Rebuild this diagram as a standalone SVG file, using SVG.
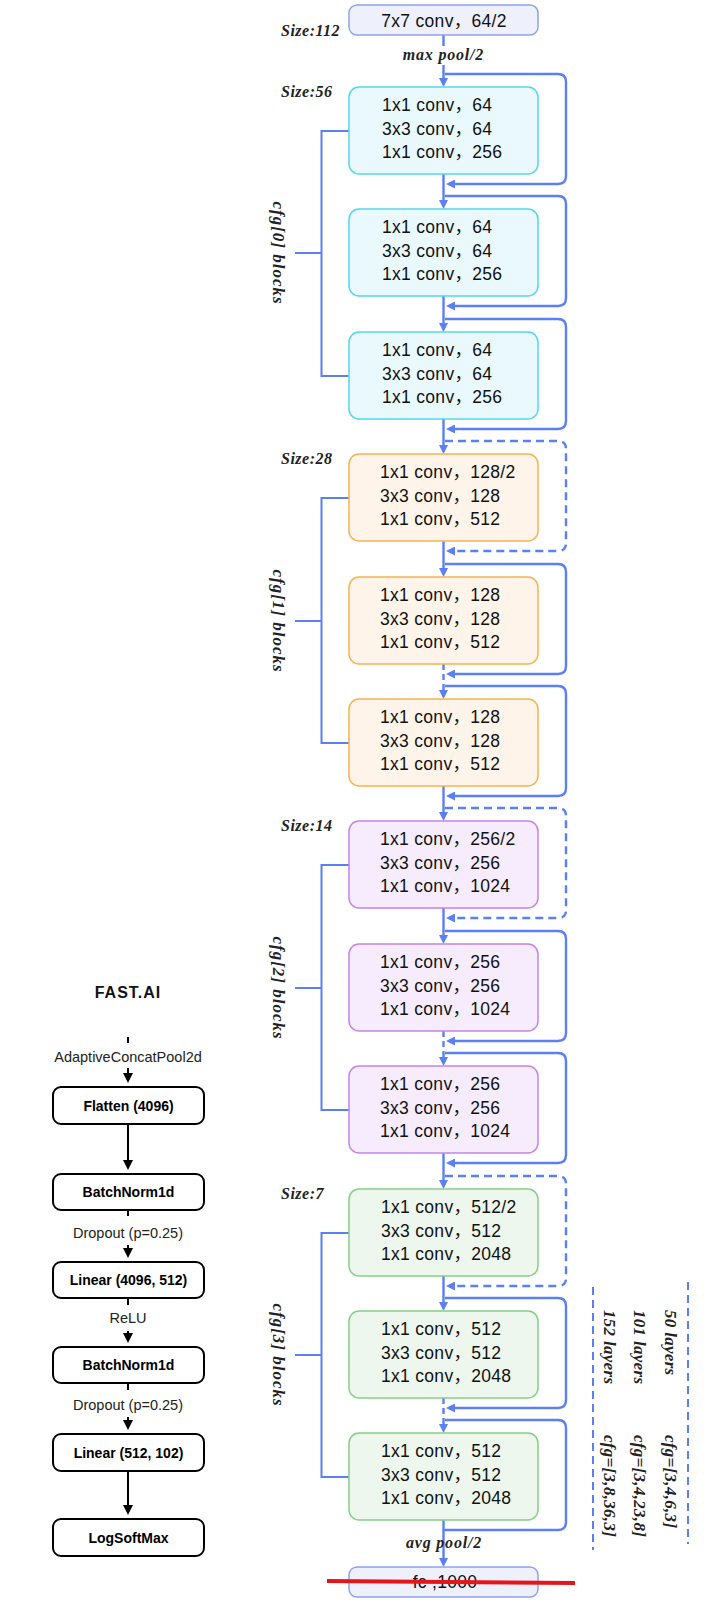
<svg xmlns="http://www.w3.org/2000/svg" width="710" height="1600" viewBox="0 0 710 1600">
<style>
.bt{font-family:"Liberation Sans","Noto Sans CJK SC",sans-serif;font-size:17.5px;letter-spacing:0.3px;fill:#111}
.lbl{font-family:"Liberation Serif",serif;font-style:italic;font-weight:bold;font-size:16px;fill:#222}
.cfg{font-family:"Liberation Serif",serif;font-style:italic;font-weight:bold;font-size:17px;letter-spacing:1px;fill:#222}
.rl{font-family:"Liberation Serif",serif;font-style:italic;font-weight:bold;font-size:17px;letter-spacing:0.3px;fill:#222}
.c{fill:none;stroke:#5b7ff5;stroke-width:2.4}
.d{stroke-dasharray:8 5}
.dm{stroke-dasharray:6 4}
.br{fill:none;stroke:#5b7ff5;stroke-width:2}
.s0{fill:#e9f9fd;stroke:#55d6f0;stroke-width:1.5}
.s1{fill:#fff4e9;stroke:#f8b350;stroke-width:1.5}
.s2{fill:#f6ecfd;stroke:#c483ef;stroke-width:1.5}
.s3{fill:#edf7ed;stroke:#86cf86;stroke-width:1.5}
.tp{fill:#eef0fc;stroke:#8fa2f2;stroke-width:1.5}
.fb{fill:#fff;stroke:#000;stroke-width:2}
.ft{font-family:"Liberation Sans",Arial,sans-serif;font-size:14px;font-weight:bold;fill:#000;text-anchor:middle}
.fl{font-family:"Liberation Sans",Arial,sans-serif;font-size:14.5px;fill:#222;text-anchor:middle}
.k{fill:none;stroke:#000;stroke-width:2}
</style>
<defs>
<marker id="ab" viewBox="0 0 9 9" refX="6" refY="4.5" markerWidth="9" markerHeight="9" markerUnits="userSpaceOnUse" orient="auto"><path d="M0,0 L9,4.5 L0,9 z" fill="#5b7ff5"/></marker>
<marker id="ak" viewBox="0 0 10 10" refX="7" refY="5" markerWidth="10" markerHeight="10" markerUnits="userSpaceOnUse" orient="auto"><path d="M0,0 L10,5 L0,10 z" fill="#000"/></marker>
</defs>
<rect width="710" height="1600" fill="#fff"/>

<g id="connectors">
<path class="c" d="M443.5,35 V46"/>
<path class="c" d="M443.5,65 V84" marker-end="url(#ab)"/>
<path class="c" d="M443.5,174 V206" marker-end="url(#ab)"/>
<path class="c" d="M443.5,296 V329" marker-end="url(#ab)"/>
<path class="c" d="M443.5,419 V451" marker-end="url(#ab)"/>
<path class="c" d="M443.5,541 V574" marker-end="url(#ab)"/>
<path class="c dm" d="M443.5,664 V696" marker-end="url(#ab)"/>
<path class="c" d="M443.5,786 V818" marker-end="url(#ab)"/>
<path class="c" d="M443.5,908 V941" marker-end="url(#ab)"/>
<path class="c dm" d="M443.5,1031 V1063" marker-end="url(#ab)"/>
<path class="c" d="M443.5,1153 V1186" marker-end="url(#ab)"/>
<path class="c" d="M443.5,1276 V1308" marker-end="url(#ab)"/>
<path class="c dm" d="M443.5,1398 V1430" marker-end="url(#ab)"/>
<path class="c" d="M443.5,1520 V1564" marker-end="url(#ab)"/>

<path class="c" d="M445,74 H558 Q566,74 566,82 V176 Q566,184 558,184 H449" marker-end="url(#ab)"/>
<path class="c" d="M445,196 H558 Q566,196 566,204 V298 Q566,306 558,306 H449" marker-end="url(#ab)"/>
<path class="c" d="M445,319 H558 Q566,319 566,327 V421 Q566,429 558,429 H449" marker-end="url(#ab)"/>
<path class="c d" d="M445,441 H558 Q566,441 566,449 V543 Q566,551 558,551 H449" marker-end="url(#ab)"/>
<path class="c" d="M445,564 H558 Q566,564 566,572 V666 Q566,674 558,674 H449" marker-end="url(#ab)"/>
<path class="c" d="M445,686 H558 Q566,686 566,694 V788 Q566,796 558,796 H449" marker-end="url(#ab)"/>
<path class="c d" d="M445,808 H558 Q566,808 566,816 V910 Q566,918 558,918 H449" marker-end="url(#ab)"/>
<path class="c" d="M445,931 H558 Q566,931 566,939 V1033 Q566,1041 558,1041 H449" marker-end="url(#ab)"/>
<path class="c" d="M445,1053 H558 Q566,1053 566,1061 V1155 Q566,1163 558,1163 H449" marker-end="url(#ab)"/>
<path class="c d" d="M445,1176 H558 Q566,1176 566,1184 V1278 Q566,1286 558,1286 H449" marker-end="url(#ab)"/>
<path class="c" d="M445,1298 H558 Q566,1298 566,1306 V1400 Q566,1408 558,1408 H449" marker-end="url(#ab)"/>
<path class="c" d="M445,1420 H558 Q566,1420 566,1428 V1522 Q566,1530 558,1530 H444"/>

<path class="br" d="M349,131 H321.5 V376 H349 M295,253 H321.5"/>
<path class="br" d="M349,498 H321.5 V743 H349 M295,621 H321.5"/>
<path class="br" d="M349,865 H321.5 V1110 H349 M295,988 H321.5"/>
<path class="br" d="M349,1233 H321.5 V1477 H349 M295,1355 H321.5"/>

<path class="br d" d="M593,1287 V1550"/>
<path class="br d" d="M688,1282 V1544"/>

<path class="k" d="M128,1037 V1043"/>
<path class="k" d="M128,1068 V1080" marker-end="url(#ak)"/>
<path class="k" d="M128,1124 V1167" marker-end="url(#ak)"/>
<path class="k" d="M128,1210 V1216"/>
<path class="k" d="M128,1245 V1255" marker-end="url(#ak)"/>
<path class="k" d="M128,1298 V1305"/>
<path class="k" d="M128,1331 V1340" marker-end="url(#ak)"/>
<path class="k" d="M128,1383 V1390"/>
<path class="k" d="M128,1417 V1427" marker-end="url(#ak)"/>
<path class="k" d="M128,1471 V1512" marker-end="url(#ak)"/>
</g>

<g id="labels">
<text class="lbl" x="281" y="36" letter-spacing="0.5">Size:112</text>
<text class="lbl" x="443.5" y="60" text-anchor="middle" letter-spacing="0.8">max pool/2</text>
<text class="lbl" x="281" y="97" letter-spacing="0.5">Size:56</text>
<text class="lbl" x="281" y="464" letter-spacing="0.5">Size:28</text>
<text class="lbl" x="281" y="831" letter-spacing="0.5">Size:14</text>
<text class="lbl" x="281" y="1199" letter-spacing="0.5">Size:7</text>
<text class="lbl" x="444" y="1548" text-anchor="middle" letter-spacing="0.8">avg pool/2</text>
<text class="cfg" transform="translate(273,253) rotate(90)" text-anchor="middle">cfg[0] blocks</text>
<text class="cfg" transform="translate(273,621) rotate(90)" text-anchor="middle">cfg[1] blocks</text>
<text class="cfg" transform="translate(273,988) rotate(90)" text-anchor="middle">cfg[2] blocks</text>
<text class="cfg" transform="translate(273,1355) rotate(90)" text-anchor="middle">cfg[3] blocks</text>
<text class="rl" transform="translate(665,1310) rotate(90)">50 layers</text>
<text class="rl" transform="translate(634,1310) rotate(90)">101 layers</text>
<text class="rl" transform="translate(604,1310) rotate(90)">152 layers</text>
<text class="rl" transform="translate(665,1435) rotate(90)">cfg=[3,4,6,3]</text>
<text class="rl" transform="translate(634,1435) rotate(90)">cfg=[3,4,23,8]</text>
<text class="rl" transform="translate(604,1435) rotate(90)">cfg=[3,8,36,3]</text>
</g>

<g id="n-top"><rect class="tp" x="349" y="5" width="189" height="30" rx="8"/><text class="bt" x="444" y="26.5" text-anchor="middle">7x7 conv，64/2</text></g>

<g id="n-s0b0"><rect class="s0" x="349" y="87" width="189" height="87" rx="10"/><text class="bt" x="382" y="111">1x1 conv，64</text><text class="bt" x="382" y="134.5">3x3 conv，64</text><text class="bt" x="382" y="158">1x1 conv，256</text></g>
<g id="n-s0b1"><rect class="s0" x="349" y="209" width="189" height="87" rx="10"/><text class="bt" x="382" y="233">1x1 conv，64</text><text class="bt" x="382" y="256.5">3x3 conv，64</text><text class="bt" x="382" y="280">1x1 conv，256</text></g>
<g id="n-s0b2"><rect class="s0" x="349" y="332" width="189" height="87" rx="10"/><text class="bt" x="382" y="356">1x1 conv，64</text><text class="bt" x="382" y="379.5">3x3 conv，64</text><text class="bt" x="382" y="403">1x1 conv，256</text></g>

<g id="n-s1b0"><rect class="s1" x="349" y="454" width="189" height="87" rx="10"/><text class="bt" x="380" y="478">1x1 conv，128/2</text><text class="bt" x="380" y="501.5">3x3 conv，128</text><text class="bt" x="380" y="525">1x1 conv，512</text></g>
<g id="n-s1b1"><rect class="s1" x="349" y="577" width="189" height="87" rx="10"/><text class="bt" x="380" y="601">1x1 conv，128</text><text class="bt" x="380" y="624.5">3x3 conv，128</text><text class="bt" x="380" y="648">1x1 conv，512</text></g>
<g id="n-s1b2"><rect class="s1" x="349" y="699" width="189" height="87" rx="10"/><text class="bt" x="380" y="723">1x1 conv，128</text><text class="bt" x="380" y="746.5">3x3 conv，128</text><text class="bt" x="380" y="770">1x1 conv，512</text></g>

<g id="n-s2b0"><rect class="s2" x="349" y="821" width="189" height="87" rx="10"/><text class="bt" x="380" y="845">1x1 conv，256/2</text><text class="bt" x="380" y="868.5">3x3 conv，256</text><text class="bt" x="380" y="892">1x1 conv，1024</text></g>
<g id="n-s2b1"><rect class="s2" x="349" y="944" width="189" height="87" rx="10"/><text class="bt" x="380" y="968">1x1 conv，256</text><text class="bt" x="380" y="991.5">3x3 conv，256</text><text class="bt" x="380" y="1015">1x1 conv，1024</text></g>
<g id="n-s2b2"><rect class="s2" x="349" y="1066" width="189" height="87" rx="10"/><text class="bt" x="380" y="1090">1x1 conv，256</text><text class="bt" x="380" y="1113.5">3x3 conv，256</text><text class="bt" x="380" y="1137">1x1 conv，1024</text></g>

<g id="n-s3b0"><rect class="s3" x="349" y="1189" width="189" height="87" rx="10"/><text class="bt" x="381" y="1213">1x1 conv，512/2</text><text class="bt" x="381" y="1236.5">3x3 conv，512</text><text class="bt" x="381" y="1260">1x1 conv，2048</text></g>
<g id="n-s3b1"><rect class="s3" x="349" y="1311" width="189" height="87" rx="10"/><text class="bt" x="381" y="1335">1x1 conv，512</text><text class="bt" x="381" y="1358.5">3x3 conv，512</text><text class="bt" x="381" y="1382">1x1 conv，2048</text></g>
<g id="n-s3b2"><rect class="s3" x="349" y="1433" width="189" height="87" rx="10"/><text class="bt" x="381" y="1457">1x1 conv，512</text><text class="bt" x="381" y="1480.5">3x3 conv，512</text><text class="bt" x="381" y="1504">1x1 conv，2048</text></g>

<g id="n-fc"><rect class="tp" x="349" y="1567" width="189" height="30" rx="8"/><text class="bt" x="445" y="1588" text-anchor="middle">fc ,1000</text></g>
<path id="redline" d="M327,1581 L575,1583" stroke="#e8141c" stroke-width="4" fill="none"/>

<g id="fastai">
<text x="128" y="998" text-anchor="middle" font-family="'Liberation Sans',Arial,sans-serif" font-weight="bold" font-size="16" letter-spacing="1" fill="#111">FAST.AI</text>
<text class="fl" x="128" y="1062">AdaptiveConcatPool2d</text>
<text class="fl" x="128" y="1238">Dropout (p=0.25)</text>
<text class="fl" x="128" y="1323">ReLU</text>
<text class="fl" x="128" y="1410">Dropout (p=0.25)</text>
</g>
<g id="n-flatten"><rect class="fb" x="53" y="1087" width="151" height="37" rx="8"/><text class="ft" x="128.5" y="1110.5">Flatten (4096)</text></g>
<g id="n-bn1"><rect class="fb" x="53" y="1174" width="151" height="36" rx="8"/><text class="ft" x="128.5" y="1197">BatchNorm1d</text></g>
<g id="n-lin1"><rect class="fb" x="53" y="1262" width="151" height="36" rx="8"/><text class="ft" x="128.5" y="1285">Linear (4096, 512)</text></g>
<g id="n-bn2"><rect class="fb" x="53" y="1347" width="151" height="36" rx="8"/><text class="ft" x="128.5" y="1370">BatchNorm1d</text></g>
<g id="n-lin2"><rect class="fb" x="53" y="1434" width="151" height="37" rx="8"/><text class="ft" x="128.5" y="1457.5">Linear (512, 102)</text></g>
<g id="n-lsm"><rect class="fb" x="53" y="1519" width="151" height="37" rx="8"/><text class="ft" x="128.5" y="1542.5">LogSoftMax</text></g>
</svg>
